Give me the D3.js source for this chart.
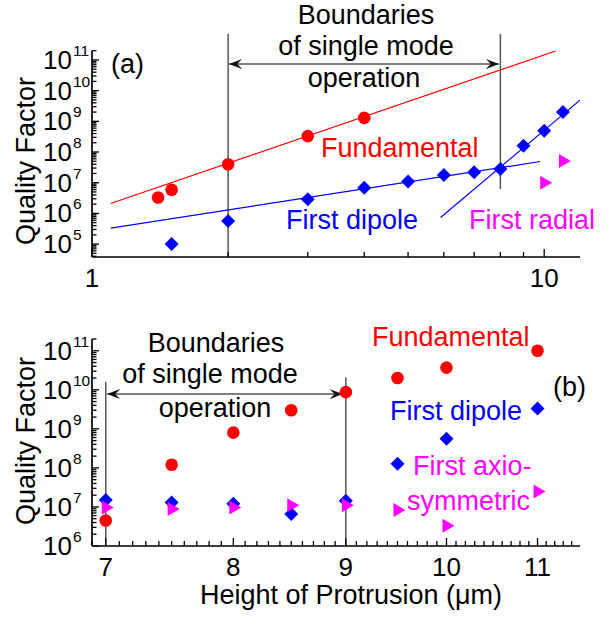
<!DOCTYPE html>
<html>
<head>
<meta charset="utf-8">
<script src="https://cdn.jsdelivr.net/npm/d3@7"></script>
<style>
  body { margin: 0; background: #fff; }
  text { font-family: "Liberation Sans", Arial, Helvetica, sans-serif; }
</style>
</head>
<body>
<svg id="chart" width="609" height="617"></svg>
<script>
// ---- panel (a): Q vs. protrusion height, log-log ----
const fundA = [[1.4, 3.3e6], [1.5, 5.9e6], [2, 4e7], [3, 3.3e8], [4, 1.3e9]];
const dipoleA = [[1.5, 1e5], [2, 5.7e5], [3, 2.9e6], [4, 6.8e6], [5, 1.1e7], [6, 1.8e7],
                 [7, 2.2e7], [8, 2.8e7], [9, 1.6e8], [10, 4.9e8], [11, 2e9]];
const radialA = [[10, 1e7], [11, 5.1e7]];
const fundFitA = [[1.1, 2.1e6], [10.6, 1.95e11]];
const dipoleFitA1 = [[1.1, 3.3e5], [9.8, 4.9e7]];
const dipoleFitA2 = [[5.9, 7.4e5], [12, 4.9e9]];
const boundsA = [[2, 3.8e4, 7e11], [8, 6.2e6, 7e11]];   // x, q bottom, q top
const arrowA = [2.01, 7.94, 7.4e10];                     // x from, x to, q
const xTicksA = [1, 2, 3, 4, 5, 6, 7, 8, 9, 10];
const xLabelsA = [1, 10];

// ---- panel (b): Q vs. height of protrusion (um) ----
const heightsB = [7, 7.5, 8, 8.5, 9, 9.5, 10, 11];
const fundB = [4.5e6, 1.2e8, 8e8, 3e9, 8.7e9, 2e10, 3.7e10, 1e11];
const dipoleB = [1.5e7, 1.3e7, 1.2e7, 6.6e6, 1.45e7, 1.27e8, 5.6e8, 3.3e9];
const axisymB = [9.7e6, 8.9e6, 9.7e6, 1.1e7, 1.1e7, 8.3e6, 3.3e6, 2.5e7];
const boundsB = [[7, 1e6, 1.6e10], [9, 1e6, 2.1e10]];
const arrowB = [7.01, 8.97, 7.8e9];
const xLabelsB = [7, 8, 9, 10, 11];

const RED = "#ff0000", BLUE = "#0000ff", MAG = "#ff00ff", GREY = "#555";

const svg = d3.select("#chart");

svg.append("defs").append("marker")
  .attr("id", "head")
  .attr("viewBox", "-13 -6 13 12")
  .attr("refX", 0).attr("refY", 0)
  .attr("markerUnits", "userSpaceOnUse")
  .attr("markerWidth", 13).attr("markerHeight", 12)
  .attr("orient", "auto-start-reverse")
  .append("path")
  .attr("d", "M0,0 L-13,-5 L-8,0 L-13,5 Z")
  .attr("fill", "#111");

// scales
const xA = d3.scaleLog().domain([1, 12]).range([92, 580]);
const yA = d3.scaleLog().domain([3.8e4, 2e11]).range([257, 50.7]);
const xB = d3.scaleLog().domain([6.9, 11.5]).range([92, 580]);
const yB = d3.scaleLog().domain([1e6, 2e11]).range([546, 339]);

function drawYAxis(y, x0) {
  const [lo, hi] = y.domain();
  const g = svg.append("g");
  g.append("line").attr("x1", x0).attr("x2", x0)
    .attr("y1", y(lo)).attr("y2", y(hi))
    .attr("stroke", "#000").attr("stroke-width", 1.7);
  const ticks = [];
  for (let d = Math.floor(Math.log10(lo)); d <= Math.ceil(Math.log10(hi)); d++) {
    for (let k = 1; k <= 9; k++) {
      const v = k * Math.pow(10, d);
      if (v >= lo * 0.999 && v <= hi * 1.001) ticks.push({ v: v, major: k === 1, d: d });
    }
  }
  g.selectAll(".yt").data(ticks).join("line")
    .attr("x1", x0).attr("x2", d => x0 + (d.major ? 7 : 4.5))
    .attr("y1", d => y(d.v)).attr("y2", d => y(d.v))
    .attr("stroke", "#000").attr("stroke-width", 1.3);
  const majors = ticks.filter(d => d.major);
  g.selectAll(".ylab").data(majors).join("text")
    .attr("x", x0 - 20).attr("y", d => y(d.v) + 9)
    .attr("text-anchor", "end").attr("font-size", 26)
    .text("10");
  g.selectAll(".yexp").data(majors).join("text")
    .attr("x", x0 - 19).attr("y", d => y(d.v) - 4)
    .attr("font-size", 15.5)
    .text(d => d.d);
}

function drawXAxis(x, yPos, ticks, majorTicks, labels) {
  const g = svg.append("g");
  g.append("line").attr("x1", x.range()[0]).attr("x2", x.range()[1])
    .attr("y1", yPos).attr("y2", yPos)
    .attr("stroke", "#000").attr("stroke-width", 1.7);
  g.selectAll(".xt").data(ticks).join("line")
    .attr("x1", d => x(d)).attr("x2", d => x(d))
    .attr("y1", yPos).attr("y2", d => yPos - (majorTicks.includes(d) ? 8 : 5))
    .attr("stroke", "#000").attr("stroke-width", 1.3);
  g.selectAll(".xl").data(labels).join("text")
    .attr("x", d => x(d)).attr("y", yPos + 30)
    .attr("text-anchor", "middle").attr("font-size", 26)
    .text(d => d);
}

function circles(pts, x, y, color) {
  svg.append("g").selectAll("circle").data(pts).join("circle")
    .attr("cx", d => x(d[0])).attr("cy", d => y(d[1]))
    .attr("r", 6.3).attr("fill", color);
}
function diamonds(pts, x, y, color) {
  svg.append("g").selectAll("path").data(pts).join("path")
    .attr("d", d => {
      const cx = x(d[0]), cy = y(d[1]);
      return `M${cx},${cy - 7}L${cx + 7},${cy}L${cx},${cy + 7}L${cx - 7},${cy}Z`;
    })
    .attr("fill", color);
}
function triangles(pts, x, y, color) {
  svg.append("g").selectAll("path").data(pts).join("path")
    .attr("d", d => {
      const cx = x(d[0]), cy = y(d[1]);
      return `M${cx - 4},${cy - 7}L${cx + 8},${cy}L${cx - 4},${cy + 7}Z`;
    })
    .attr("fill", color);
}
function fitLine(pts, x, y, color) {
  svg.append("path").datum(pts)
    .attr("d", d3.line().x(d => x(d[0])).y(d => y(d[1])))
    .attr("fill", "none").attr("stroke", color).attr("stroke-width", 1.2);
}
function bounds(list, arrow, x, y) {
  svg.append("g").selectAll("line").data(list).join("line")
    .attr("x1", d => x(d[0])).attr("x2", d => x(d[0]))
    .attr("y1", d => y(d[1])).attr("y2", d => y(d[2]))
    .attr("stroke", GREY).attr("stroke-width", 1.5);
  svg.append("line")
    .attr("x1", x(arrow[0])).attr("x2", x(arrow[1]))
    .attr("y1", y(arrow[2])).attr("y2", y(arrow[2]))
    .attr("stroke", GREY).attr("stroke-width", 1.5)
    .attr("marker-start", "url(#head)").attr("marker-end", "url(#head)");
}
function label(txt, px, py, color, anchor) {
  svg.append("text").attr("x", px).attr("y", py)
    .attr("font-size", 27).attr("fill", color || "#000")
    .attr("text-anchor", anchor || "start")
    .text(txt);
}

// ===== panel (a) =====
bounds(boundsA, arrowA, xA, yA);
fitLine(fundFitA, xA, yA, RED);
fitLine(dipoleFitA1, xA, yA, BLUE);
fitLine(dipoleFitA2, xA, yA, BLUE);
circles(fundA, xA, yA, RED);
diamonds(dipoleA, xA, yA, BLUE);
triangles(radialA, xA, yA, MAG);
drawYAxis(yA, 92);
drawXAxis(xA, 257, xTicksA, [1, 10], xLabelsA);

label("Boundaries", 366, 24, "#000", "middle");
label("of single mode", 366, 55, "#000", "middle");
label("operation", 364, 87, "#000", "middle");
label("(a)", 111, 73);
label("Fundamental", 321, 157, RED);
label("First dipole", 286, 229, BLUE);
label("First radial", 469, 229, MAG);
svg.append("text").attr("transform", "translate(35,161) rotate(-90)")
  .attr("text-anchor", "middle").attr("font-size", 27).text("Quality Factor");

// ===== panel (b) =====
const ptsB = vals => heightsB.map((h, i) => [h, vals[i]]);
bounds(boundsB, arrowB, xB, yB);
circles(ptsB(fundB), xB, yB, RED);
diamonds(ptsB(dipoleB), xB, yB, BLUE);
triangles(ptsB(axisymB), xB, yB, MAG);
drawYAxis(yB, 92);
const xTicksB = d3.range(69, 115).map(v => v / 10);
drawXAxis(xB, 546, xTicksB, xLabelsB, xLabelsB);

label("Boundaries", 216, 352, "#000", "middle");
label("of single mode", 210, 383, "#000", "middle");
label("operation", 215, 417, "#000", "middle");
label("Fundamental", 372, 346, RED);
label("(b)", 553, 396);
label("First dipole", 390, 420, BLUE);
label("First axio-", 413, 475, MAG);
label("symmetric", 407, 510, MAG);
svg.append("text").attr("transform", "translate(35,441) rotate(-90)")
  .attr("text-anchor", "middle").attr("font-size", 27).text("Quality Factor");
label("Height of Protrusion (\u03bcm)", 351, 604, "#000", "middle");
</script>
</body>
</html>
